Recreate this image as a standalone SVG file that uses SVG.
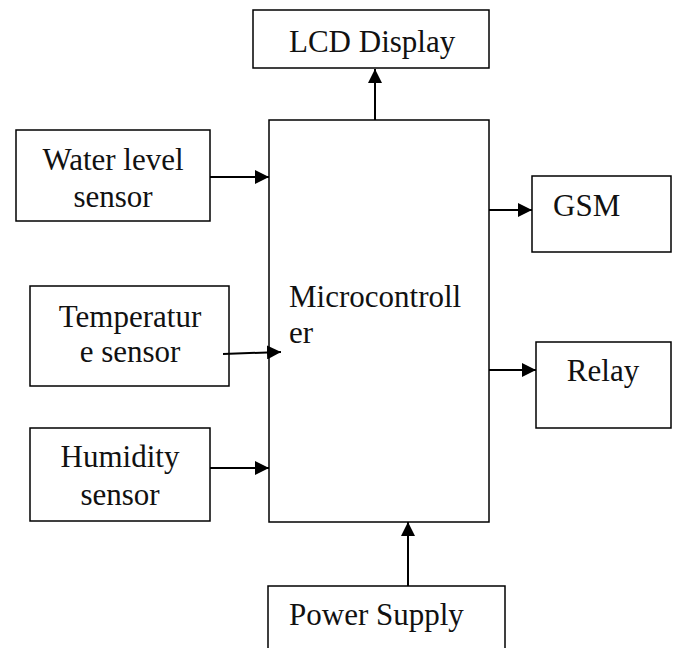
<svg xmlns="http://www.w3.org/2000/svg" width="673" height="648" viewBox="0 0 673 648">
<defs>
<style>
.box{fill:#fff;stroke:#000;stroke-width:1.5}
.t{font-family:"Liberation Serif","Times New Roman",serif;font-size:31px;fill:#111}
.c{text-anchor:middle}
.ln{stroke:#000;stroke-width:2;fill:none}
</style>
<marker id="ah" viewBox="0 0 10 10" refX="10" refY="5" markerWidth="14" markerHeight="14" markerUnits="userSpaceOnUse" orient="auto">
<path d="M0,0 L10,5 L0,10 z" fill="#000"/>
</marker>
</defs>
<rect width="673" height="648" fill="#fff"/>
<g id="lcd"><rect class="box" x="253" y="10" width="236" height="58"/><text class="t" x="289" y="52">LCD Display</text></g>
<g id="mcu"><rect class="box" x="269" y="120" width="220" height="402"/><text class="t" x="289" y="307">Microcontroll</text><text class="t" x="289" y="343">er</text></g>
<g id="water"><rect class="box" x="16" y="130" width="194" height="91"/><text class="t c" x="113" y="170">Water level</text><text class="t c" x="113" y="207">sensor</text></g>
<g id="temp"><rect class="box" x="30" y="286" width="199" height="100"/><text class="t c" x="130" y="327">Temperatur</text><text class="t c" x="130" y="362">e sensor</text></g>
<g id="hum"><rect class="box" x="30" y="428" width="180" height="93"/><text class="t c" x="120" y="467">Humidity</text><text class="t c" x="120" y="505">sensor</text></g>
<g id="gsm"><rect class="box" x="532" y="176" width="139" height="76"/><text class="t" x="553" y="216">GSM</text></g>
<g id="relay"><rect class="box" x="536" y="342" width="135" height="86"/><text class="t c" x="603" y="381">Relay</text></g>
<g id="power"><rect class="box" x="268" y="586" width="237" height="80"/><text class="t" x="289" y="625">Power Supply</text></g>
<g id="connectors">
<line class="ln" x1="375" y1="120" x2="375" y2="69" marker-end="url(#ah)"/>
<line class="ln" x1="210" y1="177" x2="269" y2="177" marker-end="url(#ah)"/>
<line class="ln" x1="223" y1="354" x2="281" y2="352" marker-end="url(#ah)"/>
<line class="ln" x1="210" y1="468" x2="269" y2="468" marker-end="url(#ah)"/>
<line class="ln" x1="489" y1="210" x2="532" y2="210" marker-end="url(#ah)"/>
<line class="ln" x1="489" y1="370" x2="536" y2="370" marker-end="url(#ah)"/>
<line class="ln" x1="408" y1="586" x2="408" y2="522" marker-end="url(#ah)"/>
</g>
</svg>
